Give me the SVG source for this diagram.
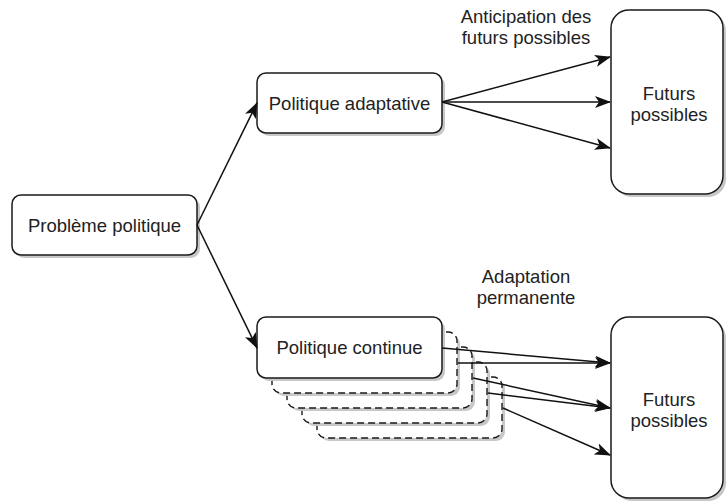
<svg xmlns="http://www.w3.org/2000/svg" width="726" height="501" viewBox="0 0 726 501">
  <defs>
    <marker id="arrow" viewBox="0 0 16 12" refX="15" refY="6" markerWidth="16" markerHeight="12" markerUnits="userSpaceOnUse" orient="auto">
      <path d="M0,0 L16,6 L0,12 L4,6 Z" fill="#111"/>
    </marker>
  </defs>
  <style>
    .box { fill: #fff; stroke: #1a1a1a; stroke-width: 1.5; }
    .dash { fill: #fff; stroke: #1a1a1a; stroke-width: 1.4; stroke-dasharray: 7 4; }
    .shadow { fill: #c8c8c8; stroke: none; }
    .label { font-family: "Liberation Sans", Arial, sans-serif; font-size: 18.5px; fill: #222; text-anchor: middle; }
    .edge { fill: none; stroke: #111; stroke-width: 1.5; marker-end: url(#arrow); }
  </style>

  <rect width="726" height="501" fill="#fff"/>

  <g id="probleme">
    <rect class="shadow" x="15" y="198" width="185" height="60" rx="9"/>
    <rect class="box" x="12" y="195" width="185" height="60" rx="9"/>
    <text class="label" x="104.5" y="231.5">Problème politique</text>
  </g>

  <g id="politique-adaptative">
    <rect class="shadow" x="260" y="76" width="185" height="60" rx="9"/>
    <rect class="box" x="257" y="73" width="185" height="60" rx="9"/>
    <text class="label" x="349.5" y="109.5">Politique adaptative</text>
  </g>

  <g id="politique-continue">
    <!-- stacked successive versions, back to front -->
    <rect class="shadow" x="320" y="380" width="185" height="61" rx="9"/>
    <rect class="dash" x="317" y="377" width="185" height="61" rx="9"/>
    <rect class="shadow" x="305" y="365" width="185" height="61" rx="9"/>
    <rect class="dash" x="302" y="362" width="185" height="61" rx="9"/>
    <rect class="shadow" x="290" y="350" width="185" height="61" rx="9"/>
    <rect class="dash" x="287" y="347" width="185" height="61" rx="9"/>
    <rect class="shadow" x="275" y="335" width="185" height="61" rx="9"/>
    <rect class="dash" x="272" y="332" width="185" height="61" rx="9"/>
    <rect class="shadow" x="260" y="320" width="185" height="61" rx="9"/>
    <rect class="box" x="257" y="317" width="185" height="61" rx="9"/>
    <text class="label" x="349.5" y="354">Politique continue</text>
  </g>

  <g id="futurs-haut">
    <rect class="shadow" x="614" y="13" width="112" height="184" rx="18"/>
    <rect class="box" x="611" y="10" width="112" height="184" rx="18"/>
    <text class="label" x="669" y="100">Futurs</text>
    <text class="label" x="669" y="121">possibles</text>
  </g>

  <g id="futurs-bas">
    <rect class="shadow" x="614" y="320" width="112" height="181" rx="18"/>
    <rect class="box" x="611" y="317" width="112" height="181" rx="18"/>
    <text class="label" x="669" y="406">Futurs</text>
    <text class="label" x="669" y="427">possibles</text>
  </g>

  <g id="annotations">
    <text class="label" x="526" y="23">Anticipation des</text>
    <text class="label" x="526" y="44">futurs possibles</text>
    <text class="label" x="526" y="283">Adaptation</text>
    <text class="label" x="526" y="304">permanente</text>
  </g>

  <g id="connectors">
    <line class="edge" x1="197" y1="225" x2="257" y2="103"/>
    <line class="edge" x1="197" y1="225" x2="257" y2="348"/>

    <line class="edge" x1="442" y1="102" x2="610" y2="57"/>
    <line class="edge" x1="442" y1="102" x2="610" y2="102"/>
    <line class="edge" x1="442" y1="102" x2="610" y2="148"/>

    <line class="edge" x1="442" y1="348" x2="610" y2="363"/>
    <line class="edge" x1="458" y1="363" x2="610" y2="363"/>
    <line class="edge" x1="473" y1="378" x2="610" y2="408"/>
    <line class="edge" x1="488" y1="393" x2="610" y2="408"/>
    <line class="edge" x1="503" y1="408" x2="610" y2="455"/>
  </g>
</svg>
